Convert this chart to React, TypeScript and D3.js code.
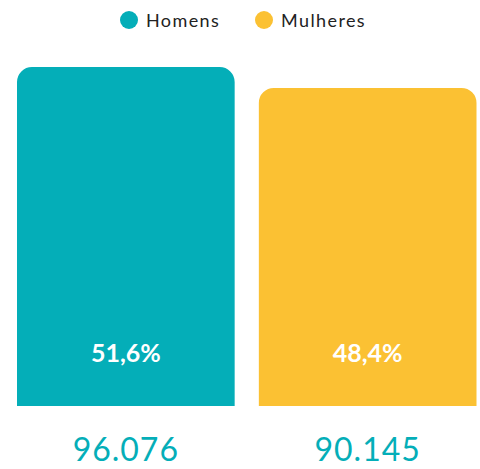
import React from "react";
import * as d3 from "d3";

const categories = ["Homens", "Mulheres"];
const values = [96076, 90145];
const percents = ["51,6%", "48,4%"];
const valueLabels = ["96.076", "90.145"];
const colors = ["#04AEB8", "#FBC133"];

const W = 480;
const H = 469;

export default function App() {
  const x = d3.scaleBand<string>().domain(categories).range([17, 476.5]).paddingInner(0.1).paddingOuter(0);
  const y = d3.scaleLinear().domain([0, d3.max(values) as number]).range([406, 67]);
  const r = 15;
  const font = "Lato, 'Open Sans', sans-serif";

  const barPath = (x0: number, y0: number, w: number, h: number) => {
    const p = d3.path();
    p.moveTo(x0, y0 + h);
    p.lineTo(x0, y0 + r);
    p.arcTo(x0, y0, x0 + r, y0, r);
    p.lineTo(x0 + w - r, y0);
    p.arcTo(x0 + w, y0, x0 + w, y0 + r, r);
    p.lineTo(x0 + w, y0 + h);
    p.closePath();
    return p.toString();
  };

  const legendX = [129, 264];

  return (
    <svg width={W} height={H} style={{ position: "absolute", left: 0, top: 0 }}>
      {categories.map((c, i) => (
        <g key={"lg" + c}>
          <circle cx={legendX[i]} cy={20} r={9} fill={colors[i]} />
          <text x={legendX[i] + 17} y={26.5} fontSize={18} letterSpacing={1.4} fontFamily={font} fill="#222">
            {c}
          </text>
        </g>
      ))}
      {categories.map((c, i) => {
        const bx = x(c) as number;
        const bw = x.bandwidth();
        const top = y(values[i]);
        const cx = bx + bw / 2;
        return (
          <g key={c}>
            <path d={barPath(bx, top, bw, y(0) - top)} fill={colors[i]} />
            <text x={cx} y={362} textAnchor="middle" fontSize={25} fontWeight={700} fontFamily={font} fill="#fff">
              {percents[i]}
            </text>
            <text x={cx} y={461} textAnchor="middle" fontSize={32} fontWeight={400} letterSpacing={1} fontFamily={font} fill={colors[0]}>
              {valueLabels[i]}
            </text>
          </g>
        );
      })}
    </svg>
  );
}
